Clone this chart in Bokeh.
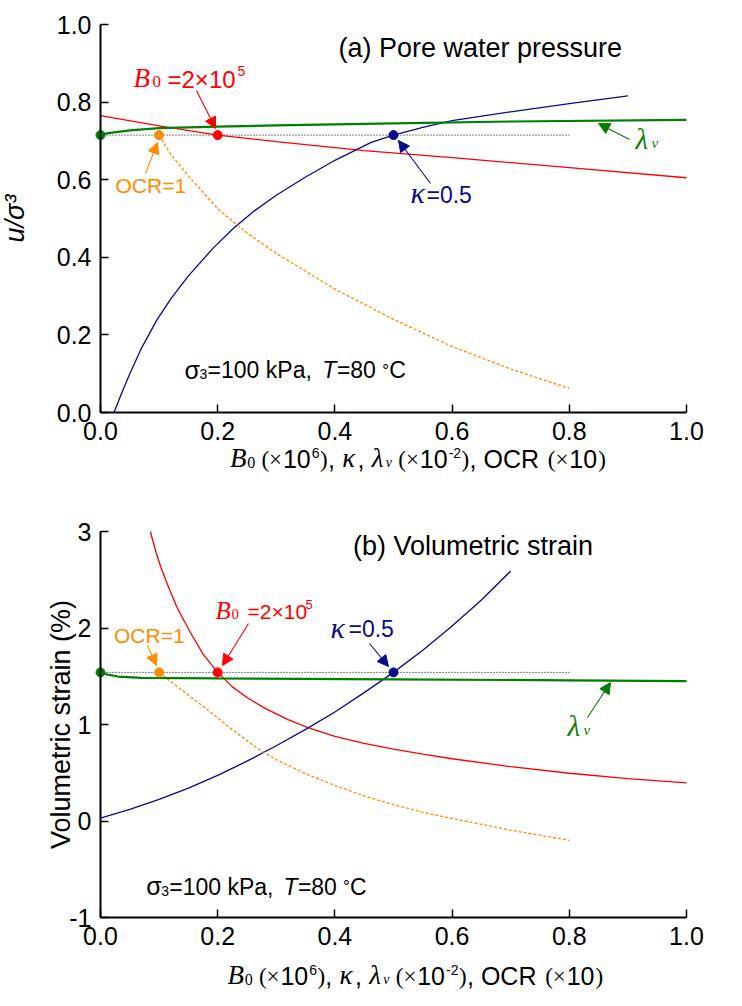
import math
from bokeh.plotting import figure
from bokeh.models import Range1d, FixedTicker, Label, Arrow, NormalHead
from bokeh.layouts import column
from bokeh.embed import file_html
from bokeh.resources import INLINE

# ---------------- data ----------------
x_ticks = [0.0, 0.2, 0.4, 0.6, 0.8, 1.0]
x_tick_labels = ["0.0", "0.2", "0.4", "0.6", "0.8", "1.0"]
ya_ticks = [0.0, 0.2, 0.4, 0.6, 0.8, 1.0]
ya_tick_labels = ["0.0", "0.2", "0.4", "0.6", "0.8", "1.0"]
yb_ticks = [-1, 0, 1, 2, 3]
yb_tick_labels = ["-1", "0", "1", "2", "3"]
ya_title = "u/σ³"
yb_title = "Volumetric strain (%)"

# panel (a): pore water pressure u/sigma3
a_lam_x = [0.0, 0.013, 0.05, 0.1, 0.2, 0.3, 0.5, 0.7, 1.0]
a_lam_y = [0.715, 0.720, 0.727, 0.733, 0.737, 0.740, 0.745, 0.750, 0.754]
a_B0_x = [0.0, 0.1, 0.2, 0.3, 0.45, 0.6, 0.8, 1.0]
a_B0_y = [0.765, 0.739, 0.715, 0.698, 0.675, 0.657, 0.631, 0.605]
a_kap_x = [0.023, 0.035, 0.05, 0.07, 0.096, 0.12, 0.15, 0.193, 0.227, 0.26, 0.3, 0.35,
           0.4, 0.462, 0.5, 0.55, 0.6, 0.7, 0.8, 0.9]
a_kap_y = [0.0, 0.046, 0.10, 0.166, 0.238, 0.293, 0.352, 0.425, 0.475, 0.517, 0.56, 0.607,
           0.65, 0.696, 0.715, 0.735, 0.752, 0.775, 0.796, 0.816]
a_ocr_x = [0.1, 0.12, 0.15, 0.2, 0.25, 0.3, 0.4, 0.5, 0.6, 0.7, 0.8]
a_ocr_y = [0.715, 0.665, 0.61, 0.525, 0.463, 0.41, 0.318, 0.24, 0.17, 0.112, 0.062]
a_ref_x = [0.0, 0.8]
a_ref_y = [0.715, 0.715]
a_pts_x = [0.0, 0.1, 0.2, 0.5]
a_pts_y = [0.715, 0.715, 0.715, 0.715]

# panel (b): volumetric strain (%)
b_lam_x = [0.0, 0.01, 0.03, 0.07, 0.2, 0.5, 0.8, 1.0]
b_lam_y = [1.54, 1.52, 1.497, 1.484, 1.478, 1.468, 1.458, 1.45]
b_B0_x = [0.085, 0.095, 0.103, 0.115, 0.13, 0.15, 0.175, 0.2, 0.225, 0.25, 0.28, 0.32,
          0.354, 0.4, 0.45, 0.5, 0.55, 0.6, 0.7, 0.8, 0.9, 1.0]
b_B0_y = [3.0, 2.78, 2.63, 2.44, 2.22, 1.99, 1.73, 1.54, 1.39, 1.28, 1.17, 1.05,
          0.968, 0.878, 0.804, 0.744, 0.692, 0.645, 0.563, 0.495, 0.44, 0.395]
b_kap_x = [0.0, 0.05, 0.1, 0.15, 0.2, 0.25, 0.3, 0.35, 0.4, 0.45, 0.5, 0.55, 0.6, 0.65, 0.7]
b_kap_y = [0.03, 0.12, 0.224, 0.34, 0.473, 0.62, 0.78, 0.95, 1.13, 1.33, 1.54, 1.77, 2.02, 2.29, 2.59]
b_ocr_x = [0.1, 0.14, 0.177, 0.22, 0.265, 0.3, 0.35, 0.4, 0.45, 0.5, 0.55, 0.6, 0.7, 0.8]
b_ocr_y = [1.54, 1.35, 1.18, 0.97, 0.765, 0.635, 0.49, 0.368, 0.26, 0.17, 0.09, 0.026, -0.095, -0.20]
b_ref_x = [0.0, 0.8]
b_ref_y = [1.54, 1.54]
b_pts_x = [0.0, 0.1, 0.2, 0.5]
b_pts_y = [1.54, 1.54, 1.54, 1.54]

pts_colors = ["#008000", "#ff8c00", "#ff0000", "#0a0a8c"]

RED = "#ff0000"
NAVY = "#0a0a8c"
GREEN = "#008000"
ORANGE = "#ff8c00"
SANS = "Liberation Sans"
SERIF = "Liberation Serif"

# ---------------- layout (page px) ----------------
FIG_W = 736
HA, HB = 490, 510          # heights of the two figures (stacked from page y=0)
AX0, AX1 = 100, 686         # page x of data x=0 and x=1
A_Y0, A_Y1 = 412, 24        # page y of u/s3 = 0 and 1
B_Y3, B_YM1 = 531, 917      # page y of strain = 3 and -1
BASE_K = 0.34               # label anchor sits this many em above the visible baseline


def cx(px):
    return (px - AX0) / (AX1 - AX0)


def cya(py):
    return (A_Y0 - py) / (A_Y0 - A_Y1)


def cyb(py):
    return 3 - (py - B_Y3) / (B_YM1 - B_Y3) * 4.0


W_SANS = {"0": .556, "1": .556, "2": .556, "3": .556, "4": .556, "5": .556, "6": .556,
          "7": .556, "8": .556, "9": .556, ".": .278, ",": .278, " ": .278, "=": .584,
          "(": .333, ")": .333, "O": .778, "C": .722, "R": .722, "k": .5, "P": .667,
          "a": .556, "T": .611, "-": .333, "°": .4, "×": .584, "σ": .58}
W_SERIF = {"B": .611, "0": .5, "(": .333, ")": .333, "×": .564, " ": .25, "κ": .55,
           "λ": .5, "v": .444}


def run_width(fam, size, text):
    tbl = W_SANS if fam == "sans" else W_SERIF
    return sum(tbl.get(ch, .55) for ch in text) * size


def add_text(p, px, base, conv_y, text, fam, style, size, color):
    p.add_layout(Label(x=cx(px), y=conv_y(base - BASE_K * size), text=text,
                       text_font=SANS if fam == "sans" else SERIF,
                       text_font_style=style, text_font_size=f"{size}px",
                       text_color=color, text_baseline="alphabetic", text_align="left"))


def place_runs(p, runs, x0, base, conv_y, color, x1=None, xs=None):
    widths = [run_width(r[0], r[2], r[4]) for r in runs]
    scale = (x1 - x0) / sum(widths) if x1 is not None else 1.0
    x = x0
    for i, ((fam, style, size, dy, text), w) in enumerate(zip(runs, widths)):
        lead = len(text) - len(text.lstrip(" "))
        px = xs[i] if xs is not None else x + run_width(fam, size, " " * lead) * scale
        add_text(p, px, base - dy, conv_y, text.strip(" "), fam, style, size, color)
        x += w * scale


def arrow(p, x0, y0, x1, y1, conv_y, color):
    p.add_layout(Arrow(end=NormalHead(size=11, fill_color=color, line_color=color, line_width=1),
                       x_start=cx(x0), y_start=conv_y(y0), x_end=cx(x1), y_end=conv_y(y1),
                       line_color=color, line_width=1.1))


def style_axes(p, yt, ytl, xloc, ybounds, ytitle, ysize, ystyle, ystand):
    p.xaxis.ticker = FixedTicker(ticks=x_ticks)
    p.xaxis.major_label_overrides = {t: l for t, l in zip(x_ticks, x_tick_labels)}
    p.yaxis.ticker = FixedTicker(ticks=yt)
    p.yaxis.major_label_overrides = {t: l for t, l in zip(yt, ytl)}
    p.xaxis.fixed_location = xloc
    p.yaxis.fixed_location = 0.0
    p.xaxis.bounds = (0.0, 1.0)
    p.yaxis.bounds = ybounds
    for ax in (p.xaxis, p.yaxis):
        ax.axis_line_width = 2
        ax.axis_line_color = "black"
        ax.major_tick_in = 8
        ax.major_tick_out = 0
        ax.major_tick_line_width = 1.5
        ax.minor_tick_line_color = None
        ax.major_label_text_font = SANS
        ax.major_label_text_font_size = "25px"
        ax.major_label_text_color = "black"
    p.xaxis.major_label_standoff = 9
    p.yaxis.major_label_standoff = 9
    p.yaxis.axis_label = ytitle
    p.yaxis.axis_label_text_font = SANS
    p.yaxis.axis_label_text_font_size = f"{ysize}px"
    p.yaxis.axis_label_text_font_style = ystyle
    p.yaxis.axis_label_text_color = "black"
    p.yaxis.axis_label_standoff = ystand
    p.xgrid.visible = False
    p.ygrid.visible = False
    p.outline_line_color = None


def new_fig(h, yr):
    return figure(frame_width=FIG_W, frame_height=h,
                  x_range=Range1d(cx(0), cx(FIG_W)), y_range=yr,
                  min_border=0, output_backend="svg", toolbar_location=None,
                  background_fill_color="white", border_fill_color="white")


xlabel_runs = [
    ("serif", "italic", 27, 0, "B"), ("serif", "normal", 16, 0, "0"),
    ("serif", "normal", 23, 0, " (×"), ("sans", "normal", 25, 0, "10"),
    ("sans", "normal", 14, 10, "6"), ("serif", "normal", 23, 0, ")"),
    ("sans", "normal", 25, 0, ","), ("serif", "italic", 27, 0, " κ"),
    ("sans", "normal", 25, 0, ","), ("serif", "italic", 27, 0, " λ"),
    ("serif", "italic", 14, 0, "v"), ("serif", "normal", 23, 0, " (×"),
    ("sans", "normal", 25, 0, "10"), ("sans", "normal", 14, 10, "-2"),
    ("serif", "normal", 23, 0, ")"), ("sans", "normal", 25, 0, ", OCR"),
    ("serif", "normal", 23, 0, " (×"), ("sans", "normal", 25, 0, "10"),
    ("serif", "normal", 23, 0, ")"),
]
cond_runs = [
    ("sans", "normal", 25, 0, "σ"), ("sans", "normal", 14, -1, "3"),
    ("sans", "normal", 23, 0, "=100 kPa,"), ("sans", "italic", 23, 0, " T"),
    ("sans", "normal", 23, 0, "=80"), ("sans", "normal", 17, 2, " °"),
    ("sans", "normal", 23, 0, "C"),
]
b0_runs_a = [
    ("serif", "italic", 27, 0, "B"), ("serif", "normal", 17, 0, "0"),
    ("sans", "normal", 24, 0, "=2×10"), ("sans", "normal", 14, 11, "5"),
]
b0_runs_b = [
    ("serif", "italic", 25, 0, "B"), ("serif", "normal", 15, 0, "0"),
    ("sans", "normal", 21, 0, "=2×10"), ("sans", "normal", 13, 10, "5"),
]
kap_runs = [("serif", "italic", 30, 0, "κ"), ("sans", "normal", 23, 0, "=0.5")]
lam_runs = [("serif", "italic", 29, 0, "λ"), ("serif", "italic", 15, 0, "v")]

# ---------------- panel (a) ----------------
pa = new_fig(HA, Range1d(cya(HA), cya(0)))
style_axes(pa, ya_ticks, ya_tick_labels, 0.0, (0.0, 1.0), ya_title, 27, "italic", 24)

pa.line(a_ref_x, a_ref_y, line_color="black", line_width=1, line_dash="1 2")
pa.line(a_B0_x, a_B0_y, line_color=RED, line_width=1.3)
pa.line(a_kap_x, a_kap_y, line_color=NAVY, line_width=1.3)
pa.line(a_ocr_x, a_ocr_y, line_color=ORANGE, line_width=1.3, line_dash="3 2")
pa.line(a_lam_x, a_lam_y, line_color=GREEN, line_width=2.2)
pa.scatter(a_pts_x, a_pts_y, size=9, color=pts_colors)

add_text(pa, 338, 57, cya, "(a) Pore water pressure", "sans", "normal", 27, "black")
place_runs(pa, b0_runs_a, 133, 86.7, cya, RED, xs=[133, 152, 167, 237])
arrow(pa, 196, 90, 215, 128, cya, RED)
add_text(pa, 115, 192, cya, "OCR=1", "sans", "normal", 21, ORANGE)
arrow(pa, 145, 173, 157, 142, cya, ORANGE)
place_runs(pa, kap_runs, 411, 202, cya, NAVY, xs=[410, 426])
arrow(pa, 430, 183, 398, 140, cya, NAVY)
place_runs(pa, lam_runs, 636, 148, cya, GREEN, xs=[635, 651])
arrow(pa, 629, 139, 598, 123, cya, GREEN)
place_runs(pa, cond_runs, 184, 377.7, cya, "black", x1=406)
place_runs(pa, xlabel_runs, 229.5, 467, cya, "black", x1=605.6)

# ---------------- panel (b) ----------------
pb = new_fig(HB, Range1d(cyb(HA + HB), cyb(HA)))
style_axes(pb, yb_ticks, yb_tick_labels, -1.0, (-1.0, 3.0), yb_title, 27, "normal", -10)

pb.line(b_ref_x, b_ref_y, line_color="black", line_width=1, line_dash="1 2")
pb.line(b_B0_x, b_B0_y, line_color=RED, line_width=1.3)
pb.line(b_kap_x, b_kap_y, line_color=NAVY, line_width=1.3)
pb.line(b_ocr_x, b_ocr_y, line_color=ORANGE, line_width=1.3, line_dash="3 2")
pb.line(b_lam_x, b_lam_y, line_color=GREEN, line_width=2.2)
pb.scatter(b_pts_x, b_pts_y, size=9, color=pts_colors)

add_text(pb, 352.5, 555, cyb, "(b) Volumetric strain", "sans", "normal", 27, "black")
place_runs(pb, b0_runs_b, 215, 618.3, cyb, RED, xs=[215, 231, 247, 305])
arrow(pb, 248, 623, 222, 665, cyb, RED)
add_text(pb, 113.5, 641.7, cyb, "OCR=1", "sans", "normal", 21, ORANGE)
arrow(pb, 147, 645, 156, 665, cyb, ORANGE)
place_runs(pb, kap_runs, 331, 636.7, cyb, NAVY, xs=[330, 348])
arrow(pb, 369, 643, 388, 666, cyb, NAVY)
place_runs(pb, lam_runs, 568, 735, cyb, GREEN, xs=[567, 583])
arrow(pb, 587, 717, 610, 682, cyb, GREEN)
place_runs(pb, cond_runs, 145.7, 894, cyb, "black", x1=366.7)
place_runs(pb, xlabel_runs, 227, 984, cyb, "black", x1=603)

layout = column(pa, pb, spacing=0)
open("out.html", "w").write(file_html(layout, INLINE))
